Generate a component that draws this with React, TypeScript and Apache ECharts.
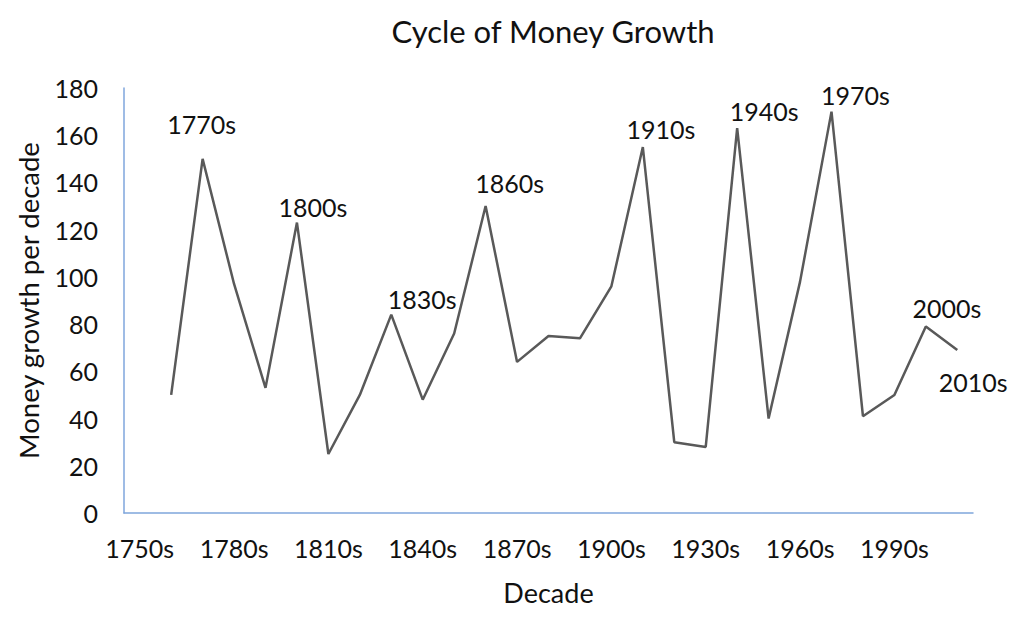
import React, { useEffect, useRef } from "react";
import * as echarts from "echarts";

const decades = [
  "1750s", "1760s", "1770s", "1780s", "1790s", "1800s", "1810s", "1820s", "1830s",
  "1840s", "1850s", "1860s", "1870s", "1880s", "1890s", "1900s", "1910s", "1920s",
  "1930s", "1940s", "1950s", "1960s", "1970s", "1980s", "1990s", "2000s", "2010s",
];
const growth: (number | null)[] = [
  null, 50, 150, 97, 53, 123, 25, 50, 84,
  48, 76, 130, 64, 75, 74, 96, 155, 30,
  28, 163, 40, 98, 170, 41, 50, 79, 69,
];
const labeled = ["1770s", "1800s", "1830s", "1860s", "1910s", "1940s", "1970s", "2000s", "2010s"];
const labelStyle: Record<string, { pos: string; dist: number; dx: number }> = {
  "1770s": { pos: "top", dist: 22, dx: -1 },
  "1800s": { pos: "top", dist: 3, dx: 16 },
  "1830s": { pos: "top", dist: 3, dx: 31 },
  "1860s": { pos: "top", dist: 10, dx: 24 },
  "1910s": { pos: "top", dist: 5, dx: 18 },
  "1940s": { pos: "top", dist: 4, dx: 27 },
  "1970s": { pos: "top", dist: 4, dx: 24 },
  "2000s": { pos: "top", dist: 5, dx: 21 },
  "2010s": { pos: "bottom", dist: 19, dx: 16 },
};

const FONT = "Lato";
const TEXT = "#111111";

export default function App() {
  const ref = useRef<HTMLDivElement>(null);
  useEffect(() => {
    if (!ref.current) return;
    const chart = echarts.init(ref.current, undefined, { renderer: "svg" });
    const data = growth.map((v, i) => {
      const name = decades[i];
      if (labeled.includes(name)) {
        const s = labelStyle[name];
        return {
          value: v,
          label: {
            show: true,
            position: s.pos,
            distance: s.dist,
            offset: [s.dx, 0],
            formatter: name,
          },
        };
      }
      return { value: v };
    });
    chart.setOption({
      animation: false,
      backgroundColor: "#ffffff",
      textStyle: { fontFamily: FONT },
      title: {
        text: "Cycle of Money Growth",
        left: 548,
        textAlign: "center",
        top: 10,
        textStyle: { fontFamily: FONT, fontSize: 31, fontWeight: "normal", color: TEXT },
      },
      grid: { left: 124, right: 51, top: 88, bottom: 107, containLabel: false },
      xAxis: {
        type: "category",
        data: decades,
        boundaryGap: true,
        name: "Decade",
        nameLocation: "middle",
        nameGap: 66,
        nameTextStyle: { fontFamily: FONT, fontSize: 27, color: TEXT, verticalAlign: "top" },
        axisLine: { show: true, lineStyle: { color: "#7fa6dc", width: 1.5 } },
        axisTick: { show: false },
        axisLabel: {
          interval: 2,
          margin: 22,
          fontFamily: FONT,
          fontSize: 25,
          color: TEXT,
        },
        splitLine: { show: false },
      },
      yAxis: {
        type: "value",
        min: 0,
        max: 180,
        interval: 20,
        name: "Money growth per decade",
        nameLocation: "middle",
        nameGap: 82,
        nameRotate: 90,
        nameTextStyle: { fontFamily: FONT, fontSize: 27.5, color: TEXT },
        axisLine: { show: true, lineStyle: { color: "#7fa6dc", width: 1.5 } },
        axisTick: { show: false },
        axisLabel: { margin: 26, fontFamily: FONT, fontSize: 25, color: TEXT },
        splitLine: { show: false },
      },
      series: [
        {
          type: "line",
          data,
          showSymbol: true,
          symbol: "circle",
          symbolSize: 1,
          itemStyle: { color: "rgba(0,0,0,0)" },
          connectNulls: false,
          lineStyle: { color: "#595959", width: 2.5 },
          label: { fontFamily: FONT, fontSize: 25, color: TEXT },
        },
      ],
    });
    return () => chart.dispose();
  }, []);
  return (
    <div
      ref={ref}
      style={{ position: "fixed", left: 0, top: 0, width: 1024, height: 620 }}
    />
  );
}
